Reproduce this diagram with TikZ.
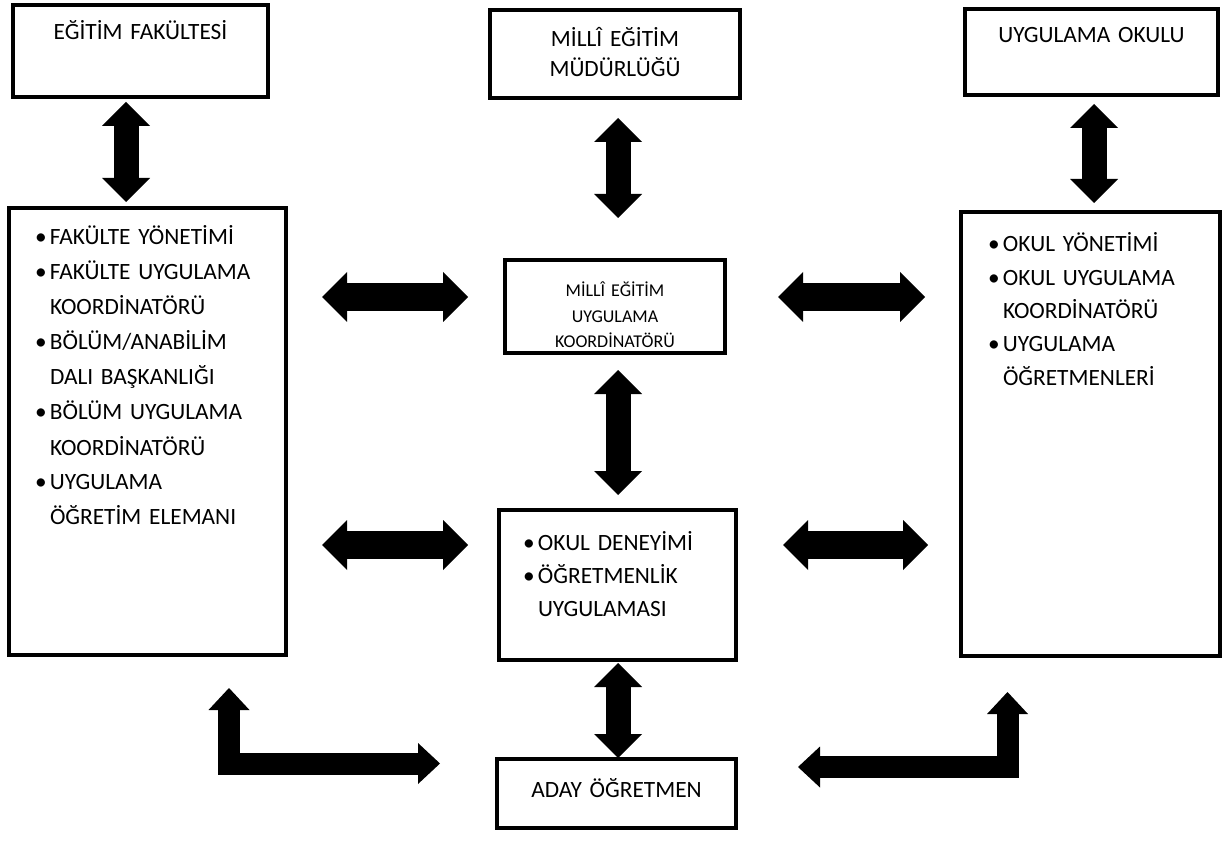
\documentclass[tikz,border=0pt]{standalone}
\usepackage{fontspec}
\setmainfont{Carlito}
\usetikzlibrary{arrows.meta,calc}

\newcommand{\blt}{\makebox[11.25pt][l]{\textbullet}}
\newcommand{\cnt}{\hspace*{11.25pt}}

\begin{document}
\begin{tikzpicture}[x=0.75pt, y=-0.75pt,
  box/.style={draw, line width=3pt, inner sep=0pt, outer sep=0pt, anchor=north, align=center, font=\fontsize{17.5}{22.5}\selectfont},
  list/.style={box, align=left, font=\fontsize{17.5}{25}\selectfont},
  vlink/.style={line width=18.75pt, >={Triangle[width=36pt 0, length=18pt 0, line width=0pt 0 0]}, <->},
  hlink/.style={line width=21pt, >={Triangle[width=37.5pt 0, length=18.75pt 0, line width=0pt 0 0]}, <->},
  elbow/.style={line width=16.5pt, line join=miter, >={Triangle[width=30.75pt 0, length=16.5pt 0, line width=0pt 0 0]}, <->}]

  \useasboundingbox (0,0) rectangle (1223,841);

  % top row
  \node[box, text width=191.25pt, text height=26.25pt, text depth=42.75pt] (fak) at (140.5,5) {EĞİTİM FAKÜLTESİ};
  \node[box, text width=187.5pt, text height=27.75pt, text depth=38.25pt] (meb) at (615,10) {MİLLÎ EĞİTİM\\MÜDÜRLÜĞÜ};
  \node[box, text width=189.75pt, text height=25.5pt, text depth=39pt] (okul) at (1091.5,9) {UYGULAMA OKULU};

  % middle row
  \node[list, font=\fontsize{17.5}{26.25}\selectfont, inner xsep=19.5pt, text width=168.75pt, text height=27.75pt, text depth=307.5pt] (fakul) at (147.5,208)
    {\blt FAKÜLTE YÖNETİMİ\\
     \blt FAKÜLTE UYGULAMA\\\cnt KOORDİNATÖRÜ\\
     \blt BÖLÜM/ANABİLİM\\\cnt DALI BAŞKANLIĞI\\
     \blt BÖLÜM UYGULAMA\\\cnt KOORDİNATÖRÜ\\
     \blt UYGULAMA\\\cnt ÖĞRETİM ELEMANI};
  \node[box, font=\fontsize{13.5}{18.75}\selectfont, text width=165pt, text height=27.75pt, text depth=42pt] (koord) at (615,260) {MİLLÎ EĞİTİM\\UYGULAMA\\KOORDİNATÖRÜ};
  \node[list, inner xsep=20.25pt, text width=153.75pt, text height=30pt, text depth=303pt] (okulb) at (1090.5,212)
    {\blt OKUL YÖNETİMİ\\
     \blt OKUL UYGULAMA\\\cnt KOORDİNATÖRÜ\\
     \blt UYGULAMA\\\cnt ÖĞRETMENLERİ};

  % lower middle
  \node[list, inner xsep=18pt, text width=141.75pt, text height=30pt, text depth=82.5pt] (deney) at (617.5,510)
    {\blt OKUL DENEYİMİ\\
     \blt ÖĞRETMENLİK\\\cnt UYGULAMASI};
  \node[box, text width=179.25pt, text height=28.5pt, text depth=23.25pt] (aday) at (616.5,759) {ADAY ÖĞRETMEN};

  % links
  \draw[vlink] ($(fak.south)+(-14.5,5)$) -- ($(fakul.north)+(-21.5,-6)$);
  \draw[vlink] ($(meb.south)+(3,20)$) -- ($(koord.north)+(3,-42)$);
  \draw[vlink] ($(okul.south)+(2.5,9)$) -- ($(okulb.north)+(3.5,-9)$);
  \draw[hlink] ($(fakul.north east)+(36,89)$) -- ($(koord.west)+(-37,-9.5)$);
  \draw[hlink] ($(koord.east)+(53,-9.5)$) -- ($(okulb.north west)+(-36,85)$);
  \draw[hlink] ($(fakul.north east)+(36,337)$) -- ($(deney.west)+(-31,-40)$);
  \draw[hlink] ($(deney.east)+(47,-40)$) -- ($(okulb.north west)+(-33,333)$);
  \draw[vlink] ($(koord.south)+(3,17)$) -- ($(deney.north)+(0.5,-15)$);
  \draw[vlink] ($(deney.south)+(0.5,3)$) -- ($(aday.north)+(1.5,-1)$);

  % elbow links to the candidate teacher
  \draw[elbow] ($(fakul.south)+(81.5,33)$) |- ($(aday.west)+(-57,-30)$);
  \draw[elbow] ($(aday.east)+(62,-26.5)$) -| ($(okulb.south)+(-83,36)$);
\end{tikzpicture}
\end{document}
